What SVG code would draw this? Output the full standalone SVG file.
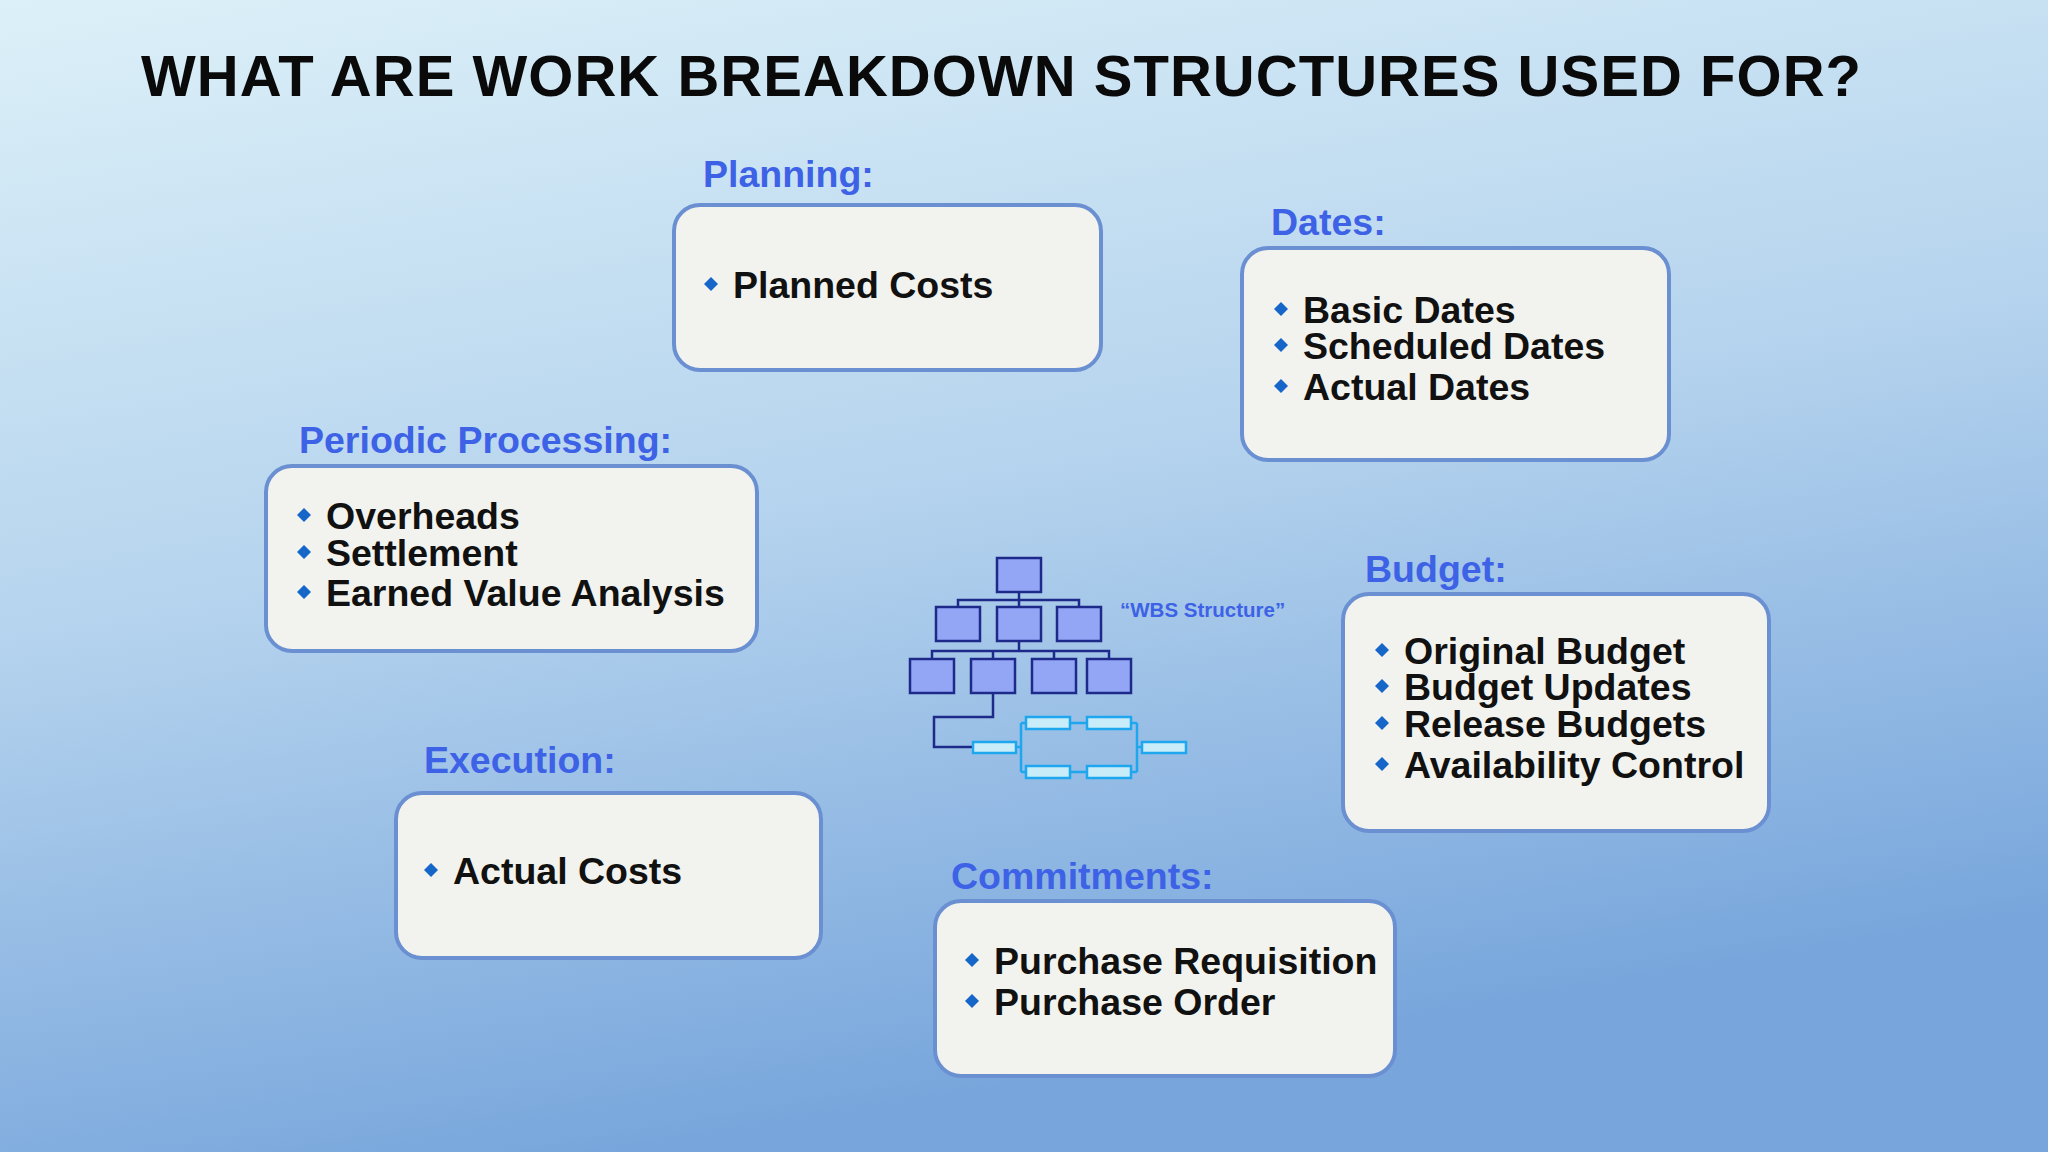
<svg xmlns="http://www.w3.org/2000/svg" width="2048" height="1152" viewBox="0 0 2048 1152">
<defs>
<linearGradient id="bg" x1="0" y1="0" x2="0.3" y2="1">
<stop offset="0" stop-color="#dcf0f8"/><stop offset="0.5" stop-color="#b6d4ee"/><stop offset="1" stop-color="#78a6dc"/>
</linearGradient>
<path id="dm" d="M0,-7 L7,0 L0,7 L-7,0Z" fill="#1566c8"/>
</defs>
<style>
.box{fill:#f2f3ee;stroke:#6b90d2;stroke-width:4}
.lab{font-family:"Liberation Sans",Arial,sans-serif;font-weight:bold;font-size:37.5px;fill:#3d62e6}
.it{font-family:"Liberation Sans",Arial,sans-serif;font-weight:bold;font-size:37.5px;fill:#111}
.dk{fill:#93a6f6;stroke:#1d2a8a;stroke-width:2.5}
.lt{fill:#c8ecf8;stroke:#1ea6ee;stroke-width:2.5}
.dl{stroke:#1d2a8a;stroke-width:2.5;fill:none}
.ll{stroke:#1ea6ee;stroke-width:2.5;fill:none}
</style>
<rect width="2048" height="1152" fill="url(#bg)"/>
<text x="141" y="96" font-family="Liberation Sans,Arial,sans-serif" font-weight="bold" font-size="58" fill="#0a0a0a" textLength="1720">WHAT ARE WORK BREAKDOWN STRUCTURES USED FOR?</text>
<g id="planning">
<text class="lab" x="703" y="187">Planning:</text>
<rect class="box" x="674" y="205" width="427" height="165" rx="26"/>
<use href="#dm" x="711" y="284"/><text class="it" x="733" y="298">Planned Costs</text>
</g>
<g id="dates">
<text class="lab" x="1271" y="235">Dates:</text>
<rect class="box" x="1242" y="248" width="427" height="212" rx="26"/>
<use href="#dm" x="1281" y="309"/><text class="it" x="1303" y="323">Basic Dates</text>
<use href="#dm" x="1281" y="345"/><text class="it" x="1303" y="359">Scheduled Dates</text>
<use href="#dm" x="1281" y="386"/><text class="it" x="1303" y="400">Actual Dates</text>
</g>
<g id="periodic">
<text class="lab" x="299" y="453">Periodic Processing:</text>
<rect class="box" x="266" y="466" width="491" height="185" rx="26"/>
<use href="#dm" x="304" y="515"/><text class="it" x="326" y="529">Overheads</text>
<use href="#dm" x="304" y="552"/><text class="it" x="326" y="566">Settlement</text>
<use href="#dm" x="304" y="592"/><text class="it" x="326" y="606">Earned Value Analysis</text>
</g>
<g id="budget">
<text class="lab" x="1365" y="582">Budget:</text>
<rect class="box" x="1343" y="594" width="426" height="237" rx="26"/>
<use href="#dm" x="1382" y="650"/><text class="it" x="1404" y="664">Original Budget</text>
<use href="#dm" x="1382" y="686"/><text class="it" x="1404" y="700">Budget Updates</text>
<use href="#dm" x="1382" y="723"/><text class="it" x="1404" y="737">Release Budgets</text>
<use href="#dm" x="1382" y="764"/><text class="it" x="1404" y="778">Availability Control</text>
</g>
<g id="execution">
<text class="lab" x="424" y="773">Execution:</text>
<rect class="box" x="396" y="793" width="425" height="165" rx="26"/>
<use href="#dm" x="431" y="870"/><text class="it" x="453" y="884">Actual Costs</text>
</g>
<g id="commitments">
<text class="lab" x="951" y="889">Commitments:</text>
<rect class="box" x="935" y="901" width="460" height="175" rx="26"/>
<use href="#dm" x="972" y="960"/><text class="it" x="994" y="974">Purchase Requisition</text>
<use href="#dm" x="972" y="1001"/><text class="it" x="994" y="1015">Purchase Order</text>
</g>
<g id="connectors">
<path class="dl" d="M1019,592 V607 M958,607 V600 H1079 V607 M1019,641 V651 M932,659 V651 H1109 V659 M993,651 V659 M1054,651 V659 M993,693 V717 H934 V747 H973"/>
<path class="ll" d="M1016,747 H1021 M1021,723 V772 M1021,723 H1026 M1021,772 H1026 M1070,723 H1087 M1070,772 H1087 M1131,723 H1137 M1131,772 H1137 M1137,723 V772 M1137,747 H1142"/>
</g>
<g id="wbs">
<rect class="dk" x="997" y="558" width="44" height="34"/>
<rect class="dk" x="936" y="607" width="44" height="34"/>
<rect class="dk" x="997" y="607" width="44" height="34"/>
<rect class="dk" x="1057" y="607" width="44" height="34"/>
<rect class="dk" x="910" y="659" width="44" height="34"/>
<rect class="dk" x="971" y="659" width="44" height="34"/>
<rect class="dk" x="1032" y="659" width="44" height="34"/>
<rect class="dk" x="1087" y="659" width="44" height="34"/>
<rect class="lt" x="973" y="742" width="43" height="11"/>
<rect class="lt" x="1026" y="717" width="44" height="12"/>
<rect class="lt" x="1087" y="717" width="44" height="12"/>
<rect class="lt" x="1026" y="766" width="44" height="12"/>
<rect class="lt" x="1087" y="766" width="44" height="12"/>
<rect class="lt" x="1142" y="742" width="44" height="11"/>
<text x="1120" y="617" font-family="Liberation Sans,Arial,sans-serif" font-weight="bold" font-size="20.5" fill="#3d62e6">“WBS Structure”</text>
</g>
</svg>
